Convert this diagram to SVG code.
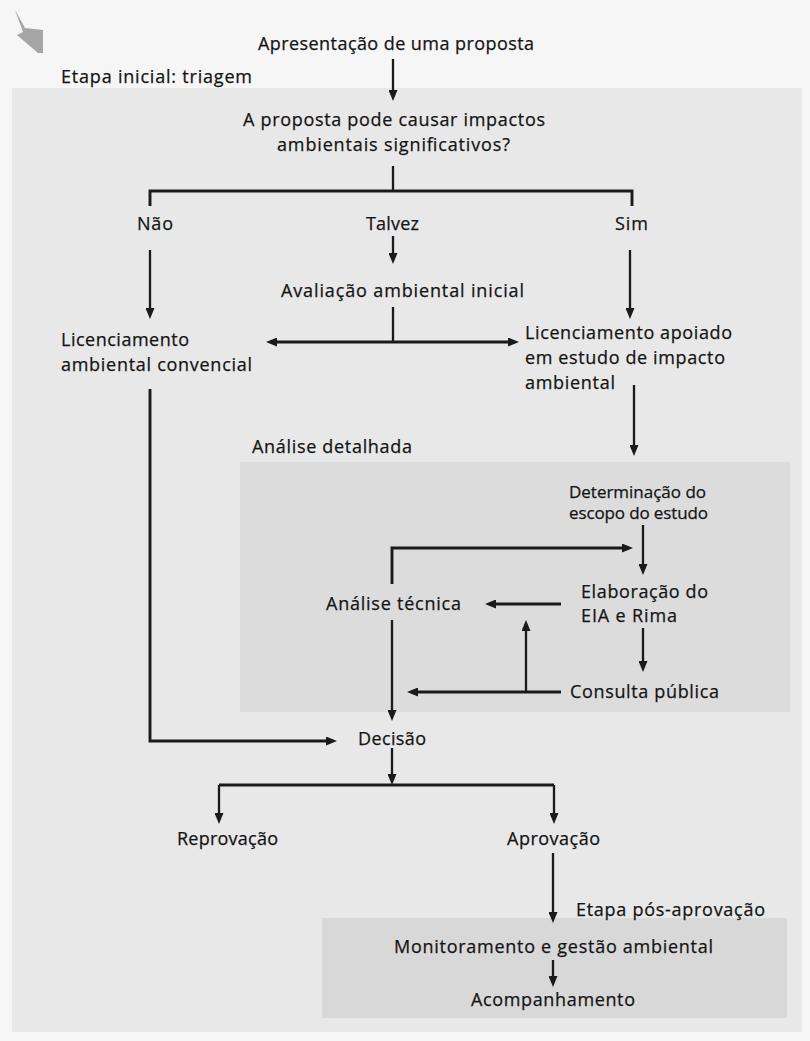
<svg xmlns="http://www.w3.org/2000/svg" width="810" height="1041" viewBox="0 0 810 1041">
<style>
text{font-family:"Open Sans","Liberation Sans",Arial,sans-serif;font-size:18px;fill:#141414;stroke:#141414;stroke-width:0.25;}
.sm{font-size:17px;}
.c{stroke:#1a1a1a;stroke-width:2.3;fill:none;}
.t{stroke-width:2.9;}
</style>
<defs>
<marker id="ah" markerUnits="userSpaceOnUse" markerWidth="11" markerHeight="9" viewBox="0 0 11 9" refX="7" refY="4.5" orient="auto">
<path d="M0,0 L11,4.5 L0,9 z" fill="#1a1a1a"/>
</marker>
</defs>
<g id="background">
<rect x="0" y="0" width="810" height="1041" fill="#f6f6f6"/>
<rect x="12" y="88" width="790" height="944" fill="#e8e8e8"/>
<rect x="240" y="462" width="550" height="250" fill="#dcdcdc"/>
<rect x="322" y="918" width="465" height="100" fill="#d8d8d8"/>
<polygon points="15,10 25,28 43,30 43,53 38,53 17,35 23,32" fill="#8a8a8a" opacity="0.75"/>
</g>
<g id="connectors">
<path class="c" d="M393,59 V97" marker-end="url(#ah)"/>
<path class="c" d="M393,166 V191"/>
<path class="c t" d="M150,206 V191 H632 V206"/>
<path class="c" d="M150,250 V315" marker-end="url(#ah)"/>
<path class="c" d="M393,236 V260" marker-end="url(#ah)"/>
<path class="c" d="M630,250 V315" marker-end="url(#ah)"/>
<path class="c" d="M393,307 V342"/>
<path class="c t" d="M393,342 H270" marker-end="url(#ah)"/>
<path class="c t" d="M393,342 H515" marker-end="url(#ah)"/>
<path class="c t" d="M150,389 V741 H333" marker-end="url(#ah)"/>
<path class="c" d="M634,385 V452" marker-end="url(#ah)"/>
<path class="c" d="M643,525 V571" marker-end="url(#ah)"/>
<path class="c t" d="M392,584 V548 H629" marker-end="url(#ah)"/>
<path class="c t" d="M561,604 H489" marker-end="url(#ah)"/>
<path class="c" d="M643,628 V668" marker-end="url(#ah)"/>
<path class="c t" d="M561,692 H411" marker-end="url(#ah)"/>
<path class="c" d="M526,692 V624" marker-end="url(#ah)"/>
<path class="c" d="M392,620 V717" marker-end="url(#ah)"/>
<path class="c" d="M392,748 V781" marker-end="url(#ah)"/>
<path class="c t" d="M219,785 H554"/>
<path class="c" d="M219,785 V820" marker-end="url(#ah)"/>
<path class="c" d="M554,785 V820" marker-end="url(#ah)"/>
<path class="c" d="M553,853 V919" marker-end="url(#ah)"/>
<path class="c" d="M553,960 V983" marker-end="url(#ah)"/>
</g>
<g id="n-apresentacao"><text x="258" y="50" textLength="276" lengthAdjust="spacing">Apresentação de uma proposta</text></g>
<g id="n-etapa-inicial"><text x="61" y="83" textLength="191" lengthAdjust="spacing">Etapa inicial: triagem</text></g>
<g id="n-pergunta">
<text x="243" y="126" textLength="302" lengthAdjust="spacing">A proposta pode causar impactos</text>
<text x="277" y="151" textLength="233" lengthAdjust="spacing">ambientais significativos?</text>
</g>
<g id="n-nao"><text x="137" y="230" textLength="36" lengthAdjust="spacing">Não</text></g>
<g id="n-talvez"><text x="366" y="230" textLength="53" lengthAdjust="spacing">Talvez</text></g>
<g id="n-sim"><text x="615" y="230" textLength="33" lengthAdjust="spacing">Sim</text></g>
<g id="n-avaliacao"><text x="281" y="297" textLength="243" lengthAdjust="spacing">Avaliação ambiental inicial</text></g>
<g id="n-lic-convencional">
<text x="61" y="346" textLength="128" lengthAdjust="spacing">Licenciamento</text>
<text x="61" y="371" textLength="191" lengthAdjust="spacing">ambiental convencial</text>
</g>
<g id="n-lic-eia">
<text x="525" y="339" textLength="207" lengthAdjust="spacing">Licenciamento apoiado</text>
<text x="525" y="364" textLength="200" lengthAdjust="spacing">em estudo de impacto</text>
<text x="525" y="389" textLength="90" lengthAdjust="spacing">ambiental</text>
</g>
<g id="n-analise-detalhada"><text x="252" y="453" textLength="160" lengthAdjust="spacing">Análise detalhada</text></g>
<g id="n-escopo">
<text class="sm" x="569" y="498" textLength="137" lengthAdjust="spacing">Determinação do</text>
<text class="sm" x="569" y="519" textLength="139" lengthAdjust="spacing">escopo do estudo</text>
</g>
<g id="n-elaboracao">
<text x="581" y="598" textLength="127" lengthAdjust="spacing">Elaboração do</text>
<text x="581" y="622" textLength="96" lengthAdjust="spacing">EIA e Rima</text>
</g>
<g id="n-analise-tecnica"><text x="326" y="610" textLength="135" lengthAdjust="spacing">Análise técnica</text></g>
<g id="n-consulta"><text x="570" y="698" textLength="149" lengthAdjust="spacing">Consulta pública</text></g>
<g id="n-decisao"><text x="358" y="745" textLength="68" lengthAdjust="spacing">Decisão</text></g>
<g id="n-reprovacao"><text x="177" y="845" textLength="101" lengthAdjust="spacing">Reprovação</text></g>
<g id="n-aprovacao"><text x="507" y="845" textLength="93" lengthAdjust="spacing">Aprovação</text></g>
<g id="n-etapa-pos"><text x="576" y="916" textLength="189" lengthAdjust="spacing">Etapa pós-aprovação</text></g>
<g id="n-monitoramento"><text x="394" y="953" textLength="319" lengthAdjust="spacing">Monitoramento e gestão ambiental</text></g>
<g id="n-acompanhamento"><text x="471" y="1006" textLength="164" lengthAdjust="spacing">Acompanhamento</text></g>
</svg>
